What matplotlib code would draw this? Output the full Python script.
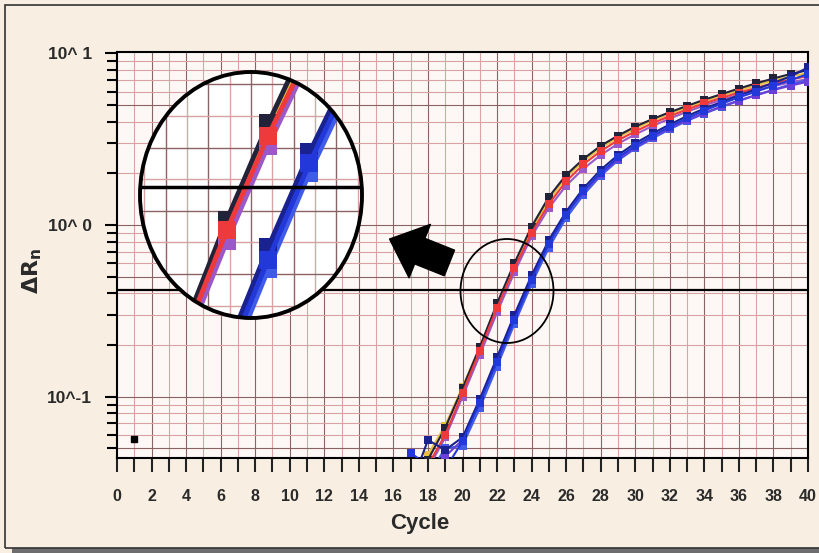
import numpy as np
import matplotlib
matplotlib.use('Agg')
import matplotlib.pyplot as plt
from matplotlib.patches import Ellipse, Rectangle
from matplotlib.ticker import FixedLocator, FixedFormatter, MultipleLocator, NullFormatter

plt.rcParams['font.family'] = ['Liberation Sans', 'DejaVu Sans']

# amplification data, cycles 17..40
cycles = list(range(17, 41))

# early group (red-ish)
red = [0.03, 0.04, 0.06, 0.105, 0.185, 0.33, 0.56, 0.90, 1.33, 1.80, 2.26, 2.7,
       3.12, 3.52, 3.92, 4.32, 4.72, 5.12, 5.52, 5.92, 6.3, 6.7, 7.05, 7.4]
black = [0.03, 0.043, 0.066, 0.112, 0.195, 0.35, 0.60, 0.98, 1.46, 1.96, 2.43, 2.9,
         3.32, 3.75, 4.15, 4.55, 4.95, 5.38, 5.8, 6.25, 6.7, 7.15, 7.6, 8.0]
purple = [0.028, 0.038, 0.058, 0.10, 0.175, 0.31, 0.53, 0.86, 1.26, 1.70, 2.13, 2.56,
          2.98, 3.38, 3.78, 4.18, 4.58, 4.98, 5.38, 5.75, 6.1, 6.45, 6.8, 7.1]
yellow = [0.032, 0.046, 0.068, 0.114, 0.195, 0.34, 0.58, 0.94, 1.40, 1.90, 2.36, 2.82,
          3.24, 3.66, 4.06, 4.46, 4.86, 5.26, 5.68, 6.1, 6.52, 6.95, 7.35, 7.7]

# late group (blue-ish)
blue = [0.047, 0.04, 0.038, 0.055, 0.092, 0.16, 0.28, 0.48, 0.78, 1.15, 1.58, 2.02,
        2.48, 2.9, 3.32, 3.75, 4.2, 4.65, 5.1, 5.55, 6.0, 6.5, 7.0, 7.6]
navy = [0.03, 0.056, 0.049, 0.058, 0.097, 0.17, 0.30, 0.51, 0.82, 1.2, 1.64, 2.1,
        2.56, 3.0, 3.42, 3.86, 4.32, 4.78, 5.22, 5.7, 6.2, 6.75, 7.35, 8.3]
royal = [0.025, 0.035, 0.05, 0.052, 0.086, 0.15, 0.265, 0.455, 0.74, 1.1, 1.5, 1.94,
         2.38, 2.8, 3.2, 3.62, 4.05, 4.47, 4.88, 5.3, 5.72, 6.15, 6.6, 7.0]
bluepurple = [0.025, 0.035, 0.045, 0.056, 0.094, 0.165, 0.29, 0.49, 0.79, 1.16, 1.56, 1.98,
              2.42, 2.84, 3.26, 3.68, 4.1, 4.5, 4.92, 5.32, 5.72, 6.12, 6.5, 6.85]

series = [
    (yellow, '#e8c040'),
    (black, '#222238'),
    (purple, '#9a58c8'),
    (red, '#ee3a3a'),
    (royal, '#3f5be8'),
    (bluepurple, '#6a3fd8'),
    (navy, '#1a2290'),
    (blue, '#2238d8'),
]

stray_x = [1]
stray_y = [0.057]

threshold = 0.42

fig = plt.figure(figsize=(8.2, 5.53), dpi=100)
fig.patch.set_facecolor('#f8efe2')

# outer frame + shadow
fig.patches.append(Rectangle((12/820, 0), 808/820, 5/553, transform=fig.transFigure,
                             facecolor='#6d6d6d', edgecolor='none', zorder=0))
fig.patches.append(Rectangle((5/820, 5/553), 830/820, 543/553, transform=fig.transFigure,
                             facecolor='none', edgecolor='#333333', lw=1.2, zorder=1))

ax = fig.add_axes([117/820, 1 - 458/553, 691/820, 406/553])
ax.set_facecolor('#fdf8f6')
ax.set_yscale('log')
ax.set_xlim(0, 40)
ax.set_ylim(0.044, 10.2)

# grid
for c in range(1, 40):
    ax.axvline(c, color='#8a6464' if c % 2 == 0 else '#dba4a4', lw=0.8, zorder=1)
for dec in [0.01, 0.1, 1]:
    for m in range(1, 10):
        v = dec * m
        if 0.044 < v < 10.2:
            ax.axhline(v, color='#8a6262' if m in (1, 5) else '#d8a2a2', lw=0.8, zorder=1)

# data
for vals, col in series:
    ax.plot(cycles, vals, color=col, lw=1.5, marker='s', markersize=6,
            markeredgewidth=0, zorder=3)
ax.plot(stray_x, stray_y, 's', color='black', markersize=5, zorder=3)

ax.axhline(threshold, color='black', lw=1.6, zorder=4)

# ticks
ax.xaxis.set_major_locator(MultipleLocator(2))
ax.xaxis.set_minor_locator(MultipleLocator(1))
ax.tick_params(axis='x', which='both', direction='out', length=10, width=1.5,
               pad=12, labelsize=11.5, colors='#222222')
ax.yaxis.set_major_locator(FixedLocator([0.1, 1, 10]))
ax.yaxis.set_major_formatter(FixedFormatter(['10^-1', '10^ 0', '10^ 1']))
ax.yaxis.set_minor_formatter(NullFormatter())
ax.tick_params(axis='y', which='major', direction='out', length=9, width=1.5,
               pad=9, labelsize=12.5)
ax.tick_params(axis='y', which='minor', direction='out', length=7, width=1.5)
for lab in ax.get_xticklabels() + ax.get_yticklabels():
    lab.set_fontweight('bold')
    lab.set_color('#2a2a2a')
for s in ax.spines.values():
    s.set_linewidth(1.5)

ax.set_xlabel('Cycle', fontsize=16, fontweight='bold', color='#2a2a2a')
ax.xaxis.set_label_coords(0.438, -0.135)
ax.set_ylabel(r'$\mathbf{\Delta R_n}$', fontsize=16, color='#2a2a2a')
ax.yaxis.set_label_coords(-0.106, 0.46)

# small circle around threshold crossing
fig.patches.append(Ellipse((507/820, 1 - 291/553), 93/820, 104/553,
                           transform=fig.transFigure, facecolor='none',
                           edgecolor='black', lw=1.3, zorder=5))

# arrow
ax.annotate('', xy=(387, 553 - 238), xycoords='figure pixels',
            xytext=(452, 553 - 264), textcoords='figure pixels',
            arrowprops=dict(arrowstyle='simple,head_length=1.3,head_width=2.3,tail_width=1.1',
                            color='black', mutation_scale=18))

# magnified inset
axi = fig.add_axes([140/820, 1 - 318/553, 222/820, 246/553])
axi.set_yscale('log')
axi.set_xlim(19.9, 25.27)
axi.set_ylim(0.202, 0.80)
axi.axis('off')
axi.patch.set_alpha(0)
circ = Ellipse((0.5, 0.5), 1, 1, transform=axi.transAxes, facecolor='white',
               edgecolor='none', zorder=0)
axi.add_patch(circ)
for k, fx in enumerate(np.linspace(0.02, 0.98, 11)):
    ln = axi.axvline(19.9 + fx * 5.37, color='#8a6464' if k % 2 else '#dba4a4', lw=1.0, zorder=1)
    ln.set_clip_path(circ)
for k, fy in enumerate(np.linspace(0.05, 0.95, 8)):
    ln = axi.axhline(0.202 * (0.80 / 0.202) ** fy, color='#8a6262' if k % 2 else '#d8a2a2',
                     lw=1.0, zorder=1)
    ln.set_clip_path(circ)
for vals, col in series:
    ln, = axi.plot(cycles, vals, color=col, lw=3.5, marker='s', markersize=13,
                   markeredgewidth=0, zorder=3)
    ln.set_clip_path(circ)
ln = axi.axhline(threshold, color='black', lw=2.5, zorder=4)
ln.set_clip_path(circ)
axi.add_patch(Ellipse((0.5, 0.5), 1, 1, transform=axi.transAxes, facecolor='none',
                      edgecolor='black', lw=2.8, zorder=6, clip_on=False))

fig.savefig('out.png', dpi=100, facecolor=fig.get_facecolor())
